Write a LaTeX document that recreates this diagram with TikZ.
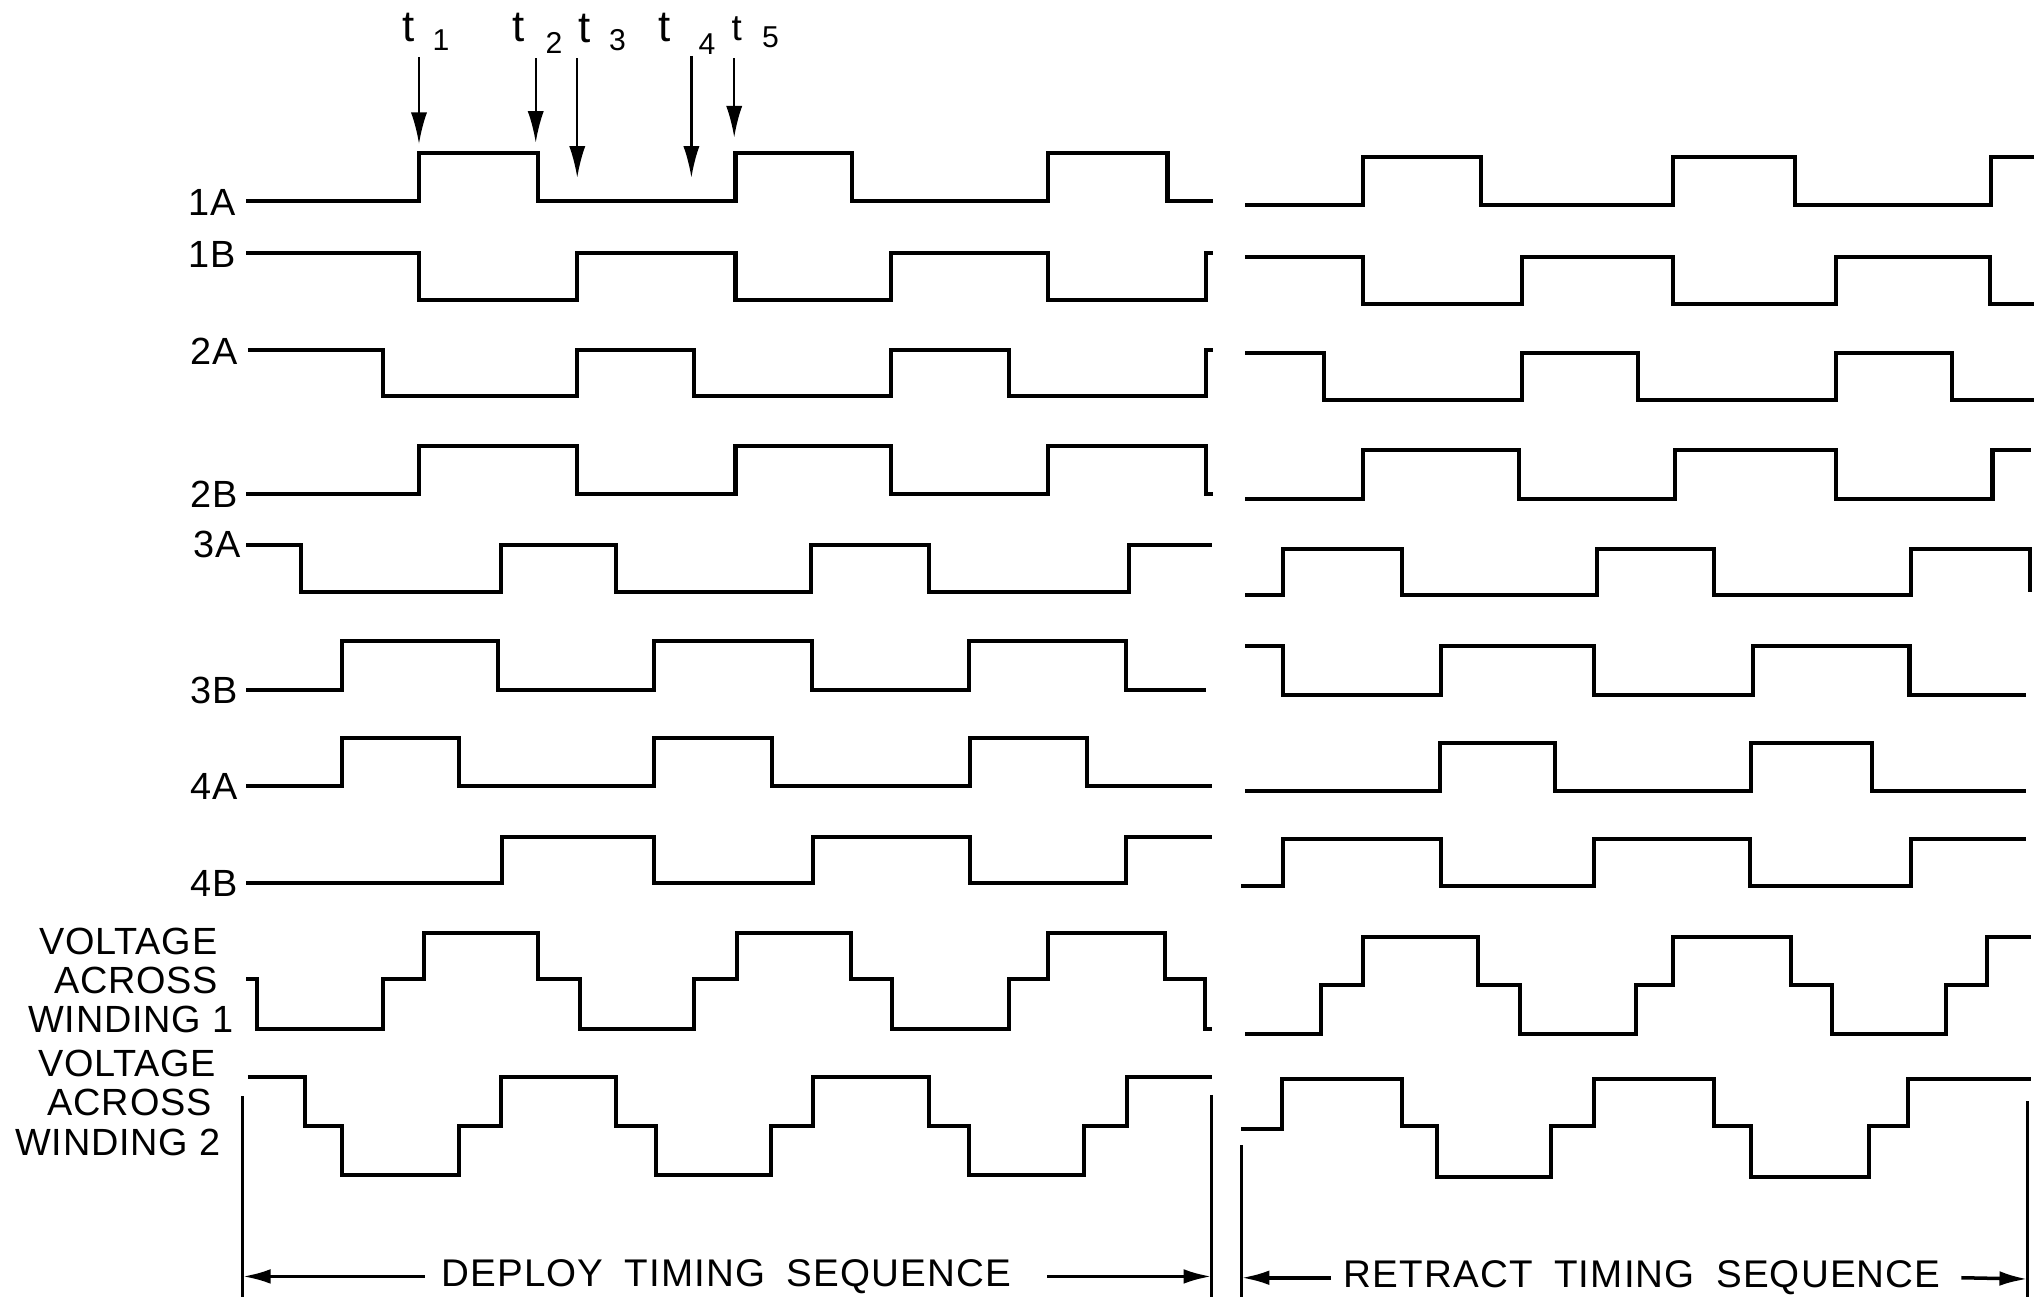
\documentclass[tikz,border=0pt]{standalone}
\usepackage{fontspec}
\setmainfont{Liberation Sans}
\usetikzlibrary{arrows.meta}
\begin{document}
\begin{tikzpicture}[x=0.013cm, y=-0.013cm,
  wave/.style={line width=1.15pt, line join=miter},
  border/.style={line width=0.75pt},
  lab/.style={inner sep=0pt, font={\fontsize{10.8}{12}\selectfont\addfontfeature{LetterSpace=2}}},
  tlab/.style={inner sep=0pt, font={\fontsize{12.5}{14}\selectfont}},
  tsub/.style={inner sep=0pt, font={\fontsize{8.6}{10}\selectfont}},
  tarrow/.style={line width=0.65pt, -{Latex[length=9pt,width=4.6pt]}},
  seqtext/.style={inner sep=0pt, font={\fontsize{11}{13}\selectfont\addfontfeature{LetterSpace=3}}},
  seqarrow/.style={line width=1pt, -{Latex[length=8pt,width=4.2pt]}}]

\fill[white] (0,0) rectangle (1568,1004);
\useasboundingbox (0,0) rectangle (1568,1004);

% ---------- time markers ----------
\node[tlab] (t1) at (315,21) {t};   \node[tsub] (s1) at (340,31) {1};
\node[tlab] (t2) at (400,21) {t};   \node[tsub] (s2) at (427,33) {2};
\node[tlab] (t3) at (451,22) {t};   \node[tsub] (s3) at (476,31) {3};
\node[tlab] (t4) at (512,21) {t};   \node[tsub] (s4) at (545,34) {4};
\node[tlab,font={\fontsize{10.5}{12}\selectfont}] (t5) at (568,22) {t};
\node[tsub] (s5) at (594,29) {5};

\coordinate (a1s) at (323,44);  \coordinate (a1e) at (323,111);
\coordinate (a2s) at (413,45);  \coordinate (a2e) at (413,110);
\coordinate (a3s) at (445,45);  \coordinate (a3e) at (445,137);
\coordinate (a4s) at (533,43);  \coordinate (a4e) at (533,137);
\coordinate (a5s) at (566,45);  \coordinate (a5e) at (566,106);
\draw[tarrow] (a1s) -- (a1e);
\draw[tarrow] (a2s) -- (a2e);
\draw[tarrow] (a3s) -- (a3e);
\draw[tarrow] (a4s) -- (a4e);
\draw[tarrow] (a5s) -- (a5e);

% ---------- row labels ----------
\node[lab, anchor=east] (l1a) at (182,156) {1A};
\node[lab, anchor=east] (l1b) at (182,196) {1B};
\node[lab, anchor=east] (l2a) at (184,271) {2A};
\node[lab, anchor=east] (l2b) at (184,381) {2B};
\node[lab, anchor=east] (l3a) at (186,420) {3A};
\node[lab, anchor=east] (l3b) at (184,532) {3B};
\node[lab, anchor=east] (l4a) at (184,606) {4A};
\node[lab, anchor=east] (l4b) at (184,681) {4B};

\node[lab] (v1a) at (99,726) {VOLTAGE};
\node[lab] (v1b) at (105,756) {ACROSS};
\node[lab] (v1c) at (101,786) {WINDING 1};
\node[lab] (v2a) at (98,820) {VOLTAGE};
\node[lab] (v2b) at (100,850) {ACROSS};
\node[lab] (v2c) at (91,881) {WINDING 2};

% ---------- deploy waveforms ----------
\draw[wave] (190,155) -| (323,118) -| (415,155) -| (567,118) -| (657,155) -| (808,118) -| (900,155) -- (935,155);
\draw[wave] (190,195) -| (323,231) -| (445,195) -| (567,231) -| (687,195) -| (808,231) -| (930,195) -- (935,195);
\draw[wave] (191,270) -| (295,305) -| (445,270) -| (535,305) -| (687,270) -| (778,305) -| (930,270) -- (935,270);
\draw[wave] (190,381) -| (323,344) -| (445,381) -| (567,344) -| (687,381) -| (808,344) -| (930,381) -- (935,381);
\draw[wave] (190,420) -| (232,456) -| (386,420) -| (475,456) -| (625,420) -| (716,456) -| (870,420) -- (934,420);
\draw[wave] (190,532) -| (264,494) -| (384,532) -| (504,494) -| (626,532) -| (747,494) -| (868,532) -- (930,532);
\draw[wave] (190,606) -| (264,569) -| (354,606) -| (504,569) -| (595,606) -| (748,569) -| (838,606) -- (934,606);
\draw[wave] (190,681) -| (387,645) -| (504,681) -| (627,645) -| (748,681) -| (868,645) -- (934,645);
\draw[wave] (190,755) -- (198,755) -- (198,793) -| (295,755) -| (327,719) -| (415,755) -| (447,793) -| (535,755) -| (568,719) -| (656,755) -| (688,793) -| (778,755) -| (808,719) -| (898,755) -| (929,793) -- (934,793);
\draw[wave] (191,830) -| (235,868) -| (264,906) -| (354,868) -| (386,830) -| (475,868) -| (506,906) -| (594,868) -| (627,830) -| (716,868) -| (747,906) -| (836,868) -| (869,830) -- (934,830);

% ---------- retract waveforms ----------
\draw[wave] (960,158) -| (1051,121) -| (1142,158) -| (1290,121) -| (1384,158) -| (1535,121) -- (1568,121);
\draw[wave] (960,198) -| (1051,234) -| (1173,198) -| (1290,234) -| (1415,198) -| (1534,234) -- (1568,234);
\draw[wave] (960,272) -| (1021,308) -| (1173,272) -| (1263,308) -| (1415,272) -| (1505,308) -- (1568,308);
\draw[wave] (960,385) -| (1051,347) -| (1171,385) -| (1291,347) -| (1415,385) -| (1536,347) -- (1566,347);
\draw[wave] (960,459) -| (989,423) -| (1081,459) -| (1231,423) -| (1321,459) -| (1473,423) -| (1565,456);
\draw[wave] (960,498) -| (989,536) -| (1111,498) -| (1229,536) -| (1351,498) -| (1472,536) -- (1562,536);
\draw[wave] (960,610) -| (1110,573) -| (1199,610) -| (1350,573) -| (1443,610) -- (1562,610);
\draw[wave] (957,683) -| (989,647) -| (1111,683) -| (1229,647) -| (1349,683) -| (1473,647) -- (1562,647);
\draw[wave] (960,797) -| (1018,759) -| (1051,722) -| (1139,759) -| (1172,797) -| (1261,759) -| (1290,722) -| (1381,759) -| (1412,797) -| (1500,759) -| (1532,722) -- (1566,722);
\draw[wave] (957,870) -| (988,832) -| (1081,868) -| (1108,907) -| (1196,868) -| (1229,832) -| (1321,868) -| (1350,907) -| (1441,868) -| (1471,832) -- (1566,832);

% ---------- sequence brackets ----------
\coordinate (dlt) at (187,845);  \coordinate (dlb) at (187,1000);
\coordinate (drt) at (934,844);  \coordinate (drb) at (934,1000);
\coordinate (rlt) at (957,883);  \coordinate (rlb) at (957,1000);
\coordinate (rrt) at (1563,849); \coordinate (rrb) at (1563,1000);
\draw[border] (dlt) -- (dlb);
\draw[border] (drt) -- (drb);
\draw[border] (rlt) -- (rlb);
\draw[border] (rrt) -- (rrb);

\node[seqtext] (dep) at (560,984) {DEPLOY\hspace{0.55em}TIMING\hspace{0.55em}SEQUENCE};
\coordinate (dla) at (187,984);
\coordinate (dra) at (934,984);
\draw[seqarrow] ([xshift=-0.16cm]dep.west) -- (dla);
\draw[seqarrow] ([xshift=0.35cm]dep.east) -- (dra);

\node[seqtext] (ret) at (1266,985) {RETRACT\hspace{0.55em}TIMING\hspace{0.55em}SEQUENCE};
\coordinate (rla) at (957,985);
\coordinate (rra) at (1563,986);
\draw[seqarrow] ([xshift=-0.12cm]ret.west) -- (rla);
\draw[seqarrow] ([xshift=0.2cm]ret.east) -- (rra);
\end{tikzpicture}
\end{document}
